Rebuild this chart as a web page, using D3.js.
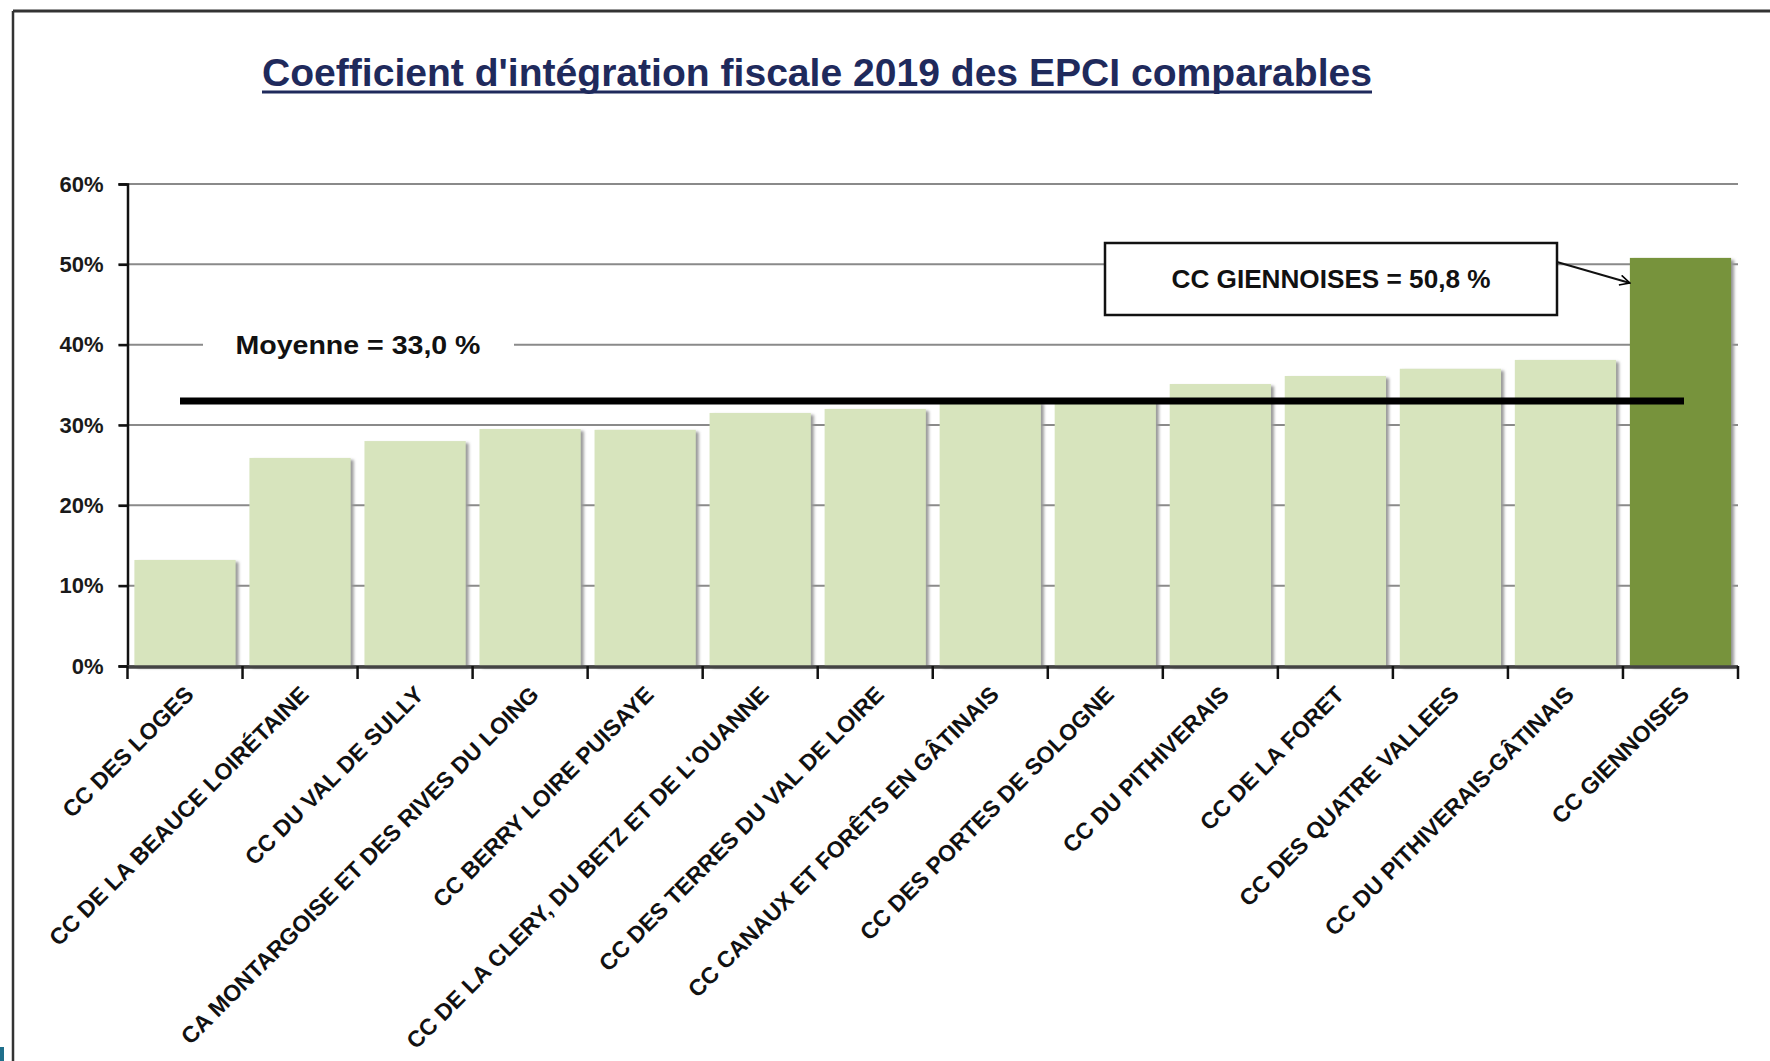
<!DOCTYPE html>
<html>
<head>
<meta charset="utf-8">
<script src="https://cdn.jsdelivr.net/npm/d3@7"></script>
<style>
  html, body { margin: 0; padding: 0; background: #fff; }
  svg { display: block; font-family: "Liberation Sans", Arial, sans-serif; }
</style>
</head>
<body>
<svg id="chart" width="1770" height="1061"></svg>
<script>
const categories = [
  "CC DES LOGES",
  "CC DE LA BEAUCE LOIRÉTAINE",
  "CC DU VAL DE SULLY",
  "CA MONTARGOISE ET DES RIVES DU LOING",
  "CC BERRY LOIRE PUISAYE",
  "CC DE LA CLERY, DU BETZ ET DE L'OUANNE",
  "CC DES TERRES DU VAL DE LOIRE",
  "CC CANAUX ET FORÊTS EN GÂTINAIS",
  "CC DES PORTES DE SOLOGNE",
  "CC DU PITHIVERAIS",
  "CC DE LA FORET",
  "CC DES QUATRE VALLEES",
  "CC DU PITHIVERAIS-GÂTINAIS",
  "CC GIENNOISES"
];
const values = [13.2, 25.9, 28.0, 29.5, 29.4, 31.5, 32.0, 32.9, 33.1, 35.1, 36.1, 37.0, 38.1, 50.8];
const highlighted = ["CC GIENNOISES"];
const yTicks = [0, 10, 20, 30, 40, 50, 60];
const meanValue = 33.0;
const title = "Coefficient d'intégration fiscale 2019 des EPCI comparables";
const meanLabel = "Moyenne = 33,0 %";
const calloutLabel = "CC GIENNOISES = 50,8 %";

const svg = d3.select("#chart");

const plot = { left: 127.5, right: 1738, top: 184, bottom: 666 };

const x = d3.scaleBand()
  .domain(categories)
  .range([plot.left, plot.right])
  .paddingInner(0.12)
  .paddingOuter(0.06);

const y = d3.scaleLinear().domain([0, 60]).range([plot.bottom, plot.top]);

// defs
const defs = svg.append("defs");
const blur = defs.append("filter").attr("id", "shadow").attr("x", "-20%").attr("y", "-5%").attr("width", "140%").attr("height", "110%");
blur.append("feGaussianBlur").attr("stdDeviation", 1.6);
defs.append("marker")
  .attr("id", "arrow")
  .attr("viewBox", "0 0 12 12")
  .attr("refX", 11).attr("refY", 6)
  .attr("markerWidth", 12).attr("markerHeight", 12)
  .attr("markerUnits", "userSpaceOnUse")
  .attr("orient", "auto")
  .append("path")
  .attr("d", "M1,1 L11,6 L1,11")
  .attr("fill", "none").attr("stroke", "#000").attr("stroke-width", 1.6);

// frame
svg.append("line").attr("x1", 13).attr("x2", 1770).attr("y1", 11).attr("y2", 11)
  .attr("stroke", "#333").attr("stroke-width", 3);
svg.append("line").attr("x1", 13).attr("x2", 13).attr("y1", 11).attr("y2", 1061)
  .attr("stroke", "#333").attr("stroke-width", 2.5);
svg.append("rect").attr("x", 0).attr("y", 1047).attr("width", 4).attr("height", 14).attr("fill", "#1f6f8b");

// title
svg.append("text")
  .attr("x", 262).attr("y", 86)
  .attr("font-size", 39).attr("font-weight", "bold")
  .attr("fill", "#1f2a5c")
  .attr("textLength", 1110).attr("lengthAdjust", "spacingAndGlyphs")
  .text(title);
svg.append("line").attr("x1", 262).attr("x2", 1372).attr("y1", 92).attr("y2", 92)
  .attr("stroke", "#1f2a5c").attr("stroke-width", 3);

// gridlines
svg.append("g").selectAll("line").data(yTicks).join("line")
  .attr("x1", plot.left - 9).attr("x2", plot.right)
  .attr("y1", d => y(d)).attr("y2", d => y(d))
  .attr("stroke", "#8a8a8a").attr("stroke-width", 2);

// mean label with white background over the 40% gridline
svg.append("rect").attr("x", 203).attr("y", 330).attr("width", 311).attr("height", 30).attr("fill", "#fff");
svg.append("text")
  .attr("x", 358).attr("y", y(40)).attr("dy", "0.36em")
  .attr("text-anchor", "middle")
  .attr("font-size", 25).attr("font-weight", "bold").attr("fill", "#111")
  .attr("textLength", 245).attr("lengthAdjust", "spacingAndGlyphs")
  .text(meanLabel);

// bars
const bars = svg.append("g");
const data = categories.map((c, i) => ({ c, v: values[i] }));
bars.selectAll("rect.sh").data(data).join("rect").attr("class", "sh")
  .attr("x", d => x(d.c) + 3).attr("y", d => y(d.v) + 2)
  .attr("width", x.bandwidth()).attr("height", d => y(0) - y(d.v))
  .attr("fill", "#9a9a9a").attr("filter", "url(#shadow)");
bars.selectAll("rect.bar").data(data).join("rect").attr("class", "bar")
  .attr("x", d => x(d.c)).attr("y", d => y(d.v))
  .attr("width", x.bandwidth()).attr("height", d => y(0) - y(d.v))
  .attr("fill", d => highlighted.includes(d.c) ? "#77933c" : "#d7e4bd");

// y axis
const yAxis = d3.axisLeft(y).tickValues(yTicks).tickFormat(d => d + "%").tickSize(9).tickPadding(15);
const gy = svg.append("g").attr("transform", `translate(${plot.left},0)`).call(yAxis);
gy.select(".domain").attr("stroke", "#111").attr("stroke-width", 2.5);
gy.selectAll(".tick line").attr("stroke", "#111").attr("stroke-width", 2.5);
gy.selectAll(".tick text").attr("font-size", 22).attr("font-weight", "bold").attr("fill", "#1a1a1a")
  .attr("font-family", "'Liberation Sans', Arial, sans-serif");

// x axis baseline and boundary ticks
svg.append("line").attr("x1", plot.left).attr("x2", plot.right)
  .attr("y1", y(0) + 1).attr("y2", y(0) + 1)
  .attr("stroke", "#444").attr("stroke-width", 3.5);
const boundaries = d3.range(categories.length + 1).map(i => plot.left + i * x.step());
svg.append("g").selectAll("line").data(boundaries).join("line")
  .attr("x1", d => d).attr("x2", d => d)
  .attr("y1", y(0)).attr("y2", y(0) + 13)
  .attr("stroke", "#111").attr("stroke-width", 2.5);

// x labels
const xAxis = d3.axisBottom(x).tickSize(0).tickPadding(0);
const gx = svg.append("g").attr("transform", `translate(0,${y(0)})`).call(xAxis);
gx.select(".domain").remove();
gx.selectAll(".tick text")
  .attr("font-size", 23).attr("font-weight", "bold").attr("fill", "#111")
  .attr("font-family", "'Liberation Sans', Arial, sans-serif")
  .attr("text-anchor", "end")
  .attr("x", 0).attr("y", 0).attr("dy", "0")
  .attr("transform", "translate(10,30) rotate(-45)");

// mean line
svg.append("line")
  .attr("x1", 180).attr("x2", 1684)
  .attr("y1", y(meanValue)).attr("y2", y(meanValue))
  .attr("stroke", "#000").attr("stroke-width", 7);

// callout box
svg.append("rect").attr("x", 1105).attr("y", 243).attr("width", 452).attr("height", 72)
  .attr("fill", "#fff").attr("stroke", "#111").attr("stroke-width", 2.5);
svg.append("text")
  .attr("x", 1331).attr("y", 279).attr("dy", "0.36em")
  .attr("text-anchor", "middle")
  .attr("font-size", 25).attr("font-weight", "bold").attr("fill", "#111")
  .attr("textLength", 319).attr("lengthAdjust", "spacingAndGlyphs")
  .text(calloutLabel);
svg.append("line")
  .attr("x1", 1557).attr("y1", 262)
  .attr("x2", x("CC GIENNOISES")).attr("y2", 283)
  .attr("stroke", "#111").attr("stroke-width", 2)
  .attr("marker-end", "url(#arrow)");
</script>
</body>
</html>
